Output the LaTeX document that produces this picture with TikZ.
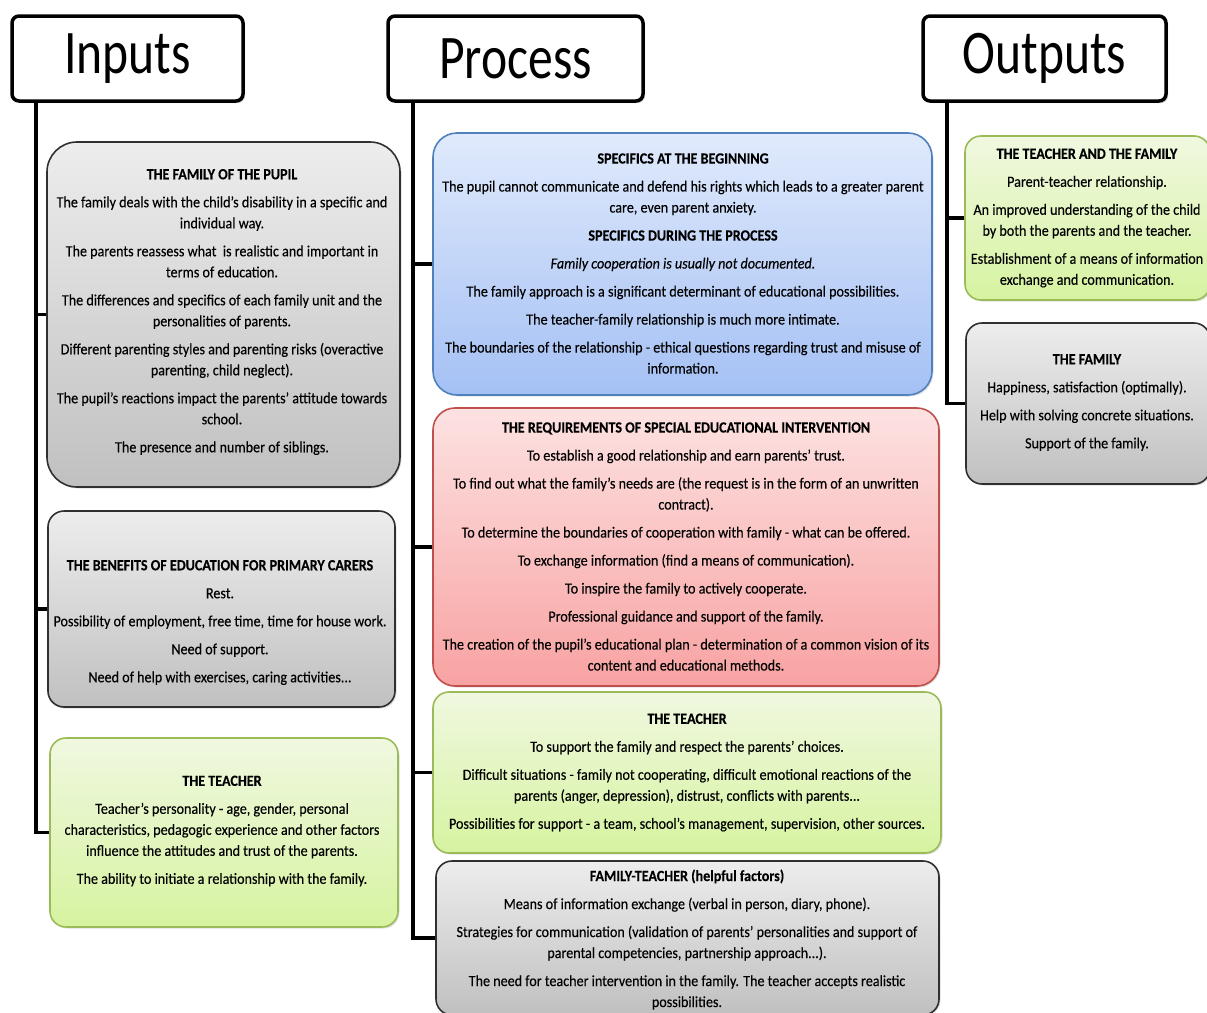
\documentclass[tikz,border=0pt]{standalone}
\usepackage{fontspec}
\setmainfont{Carlito}[FakeStretch=0.91, FakeBold=0.25]
\newfontfamily\hdrfont{Carlito}[FakeStretch=0.8]
\usetikzlibrary{shadows}
\definecolor{grayTop}{HTML}{EDEDED}
\definecolor{grayBot}{HTML}{C0C0C0}
\definecolor{grayEdge}{HTML}{303030}
\definecolor{greenTop}{HTML}{F0F8E0}
\definecolor{greenBot}{HTML}{D6F3A0}
\definecolor{greenEdge}{HTML}{9BBB59}
\definecolor{blueTop}{HTML}{E0EAFC}
\definecolor{blueBot}{HTML}{A4C0F4}
\definecolor{blueEdge}{HTML}{4F81BD}
\definecolor{redTop}{HTML}{FDE2E2}
\definecolor{redBot}{HTML}{F8A2A2}
\definecolor{redEdge}{HTML}{C0504D}
\tikzset{
  hdr/.style={draw=black, line width=3.5pt, rounded corners=7pt, fill=white,
    font=\hdrfont\fontsize{62}{62}\selectfont, minimum height=85pt, inner sep=0pt,
    drop shadow={opacity=0.35, shadow xshift=2pt, shadow yshift=-2pt}},
  conn/.style={draw=black, line width=3.5pt},
  boxbase/.style={line width=1.6pt, inner sep=0pt, rounded corners=16pt,
    drop shadow={opacity=0.25, shadow xshift=1.5pt, shadow yshift=-1.5pt}},
  graybox/.style={boxbase, draw=grayEdge, top color=grayTop, bottom color=grayBot},
  greenbox/.style={boxbase, draw=greenEdge, top color=greenTop, bottom color=greenBot},
  bluebox/.style={boxbase, draw=blueEdge, top color=blueTop, bottom color=blueBot},
  redbox/.style={boxbase, draw=redEdge, top color=redTop, bottom color=redBot},
  txt/.style={align=center, inner sep=0pt, font=\fontsize{15.5}{21}\selectfont},
}
\newcommand{\pg}{\\[7pt]}
\begin{document}
\begin{tikzpicture}[x=1pt, y=-1pt]
\useasboundingbox (0,0) rectangle (1207,1012);

% headers
\node[hdr, minimum width=231pt] (inH) at (127.5,58.5) {Inputs};
\node[hdr, minimum width=255pt] (prH) at (515.5,58.5) {Process};
\node[hdr, minimum width=243pt] (outH) at (1044.5,58.5) {Outputs};

% trunk tops
\coordinate (inT) at (36,101);
\coordinate (prT) at (413,101);
\coordinate (outT) at (947,101);

% boxes
\node[graybox, rounded corners=30pt, minimum width=353pt, minimum height=345pt] (famIn) at (223.5,314.5) {};
\node[graybox, minimum width=347pt, minimum height=196pt] (benIn) at (221.5,609) {};
\node[greenbox, minimum width=348pt, minimum height=189pt] (tchIn) at (224,832.5) {};

\node[bluebox, rounded corners=24pt, minimum width=499pt, minimum height=262pt] (specP) at (682.5,264) {};
\node[redbox, rounded corners=22pt, minimum width=506pt, minimum height=278pt] (reqP) at (686,547) {};
\node[greenbox, minimum width=508pt, minimum height=161pt] (tchP) at (687,772.5) {};
\node[graybox, minimum width=503pt, minimum height=154pt] (famP) at (687.5,938) {};

\node[greenbox, minimum width=245pt, minimum height=164pt] (tfO) at (1087.5,218) {};
\node[graybox, minimum width=244pt, minimum height=161pt] (famO) at (1088,403.5) {};

% connectors
\draw[conn] (inT) |- (tchIn.west);
\draw[conn] (famIn.west) -- (famIn.west -| inT);
\draw[conn] (benIn.west) -- (benIn.west -| inT);
\draw[conn] (prT) |- (famP.west);
\draw[conn] (specP.west) -- (specP.west -| prT);
\draw[conn] (reqP.west) -- (reqP.west -| prT);
\draw[conn] (tchP.west) -- (tchP.west -| prT);
\draw[conn] (outT) |- (famO.west);
\draw[conn] (tfO.west) -- (tfO.west -| outT);

% texts
\node[txt] (famInT) at (222,312) {\textbf{THE FAMILY OF THE PUPIL}\pg
The family deals with the child's disability in a specific and\\ individual way.\pg
The parents reassess what\ \ is realistic and important in\\ terms of education.\pg
The differences and specifics of each family unit and the\\ personalities of parents.\pg
Different parenting styles and parenting risks (overactive\\ parenting, child neglect).\pg
The pupil's reactions impact the parents' attitude towards\\ school.\pg
The presence and number of siblings.};

\node[txt] (benInT) at (220,622.5) {\textbf{THE BENEFITS OF EDUCATION FOR PRIMARY CARERS}\pg
Rest.\pg
Possibility of employment, free time, time for house work.\pg
Need of support.\pg
Need of help with exercises, caring activities...};

\node[txt] (tchInT) at (222,831) {\textbf{THE TEACHER}\pg
Teacher's personality - age, gender, personal\\ characteristics, pedagogic experience and other factors\\ influence the attitudes and trust of the parents.\pg
The ability to initiate a relationship with the family.};

\node[txt] (specPT) at (683,263.5) {\textbf{SPECIFICS AT THE BEGINNING}\pg
The pupil cannot communicate and defend his rights which leads to a greater parent\\ care, even parent anxiety.\pg
\textbf{SPECIFICS DURING THE PROCESS}\pg
\textit{Family cooperation is usually not documented.}\pg
The family approach is a significant determinant of educational possibilities.\pg
The teacher-family relationship is much more intimate.\pg
The boundaries of the relationship - ethical questions regarding trust and misuse of\\ information.};

\node[txt] (reqPT) at (686,546.5) {\textbf{THE REQUIREMENTS OF SPECIAL EDUCATIONAL INTERVENTION}\pg
To establish a good relationship and earn parents' trust.\pg
To find out what the family's needs are (the request is in the form of an unwritten\\ contract).\pg
To determine the boundaries of cooperation with family - what can be offered.\pg
To exchange information (find a means of communication).\pg
To inspire the family to actively cooperate.\pg
Professional guidance and support of the family.\pg
The creation of the pupil's educational plan - determination of a common vision of its\\ content and educational methods.};

\node[txt] (tchPT) at (687,772.5) {\textbf{THE TEACHER}\pg
To support the family and respect the parents' choices.\pg
Difficult situations - family not cooperating, difficult emotional reactions of the\\ parents (anger, depression), distrust, conflicts with parents...\pg
Possibilities for support - a team, school's management, supervision, other sources.};

\node[txt] (famPT) at (687,939.5) {\textbf{FAMILY-TEACHER (helpful factors)}\pg
Means of information exchange (verbal in person, diary, phone).\pg
Strategies for communication (validation of parents' personalities and support of\\ parental competencies, partnership approach...).\pg
The need for teacher intervention in the family. The teacher accepts realistic\\ possibilities.};

\node[txt] (tfOT) at (1087,218) {\textbf{THE TEACHER AND THE FAMILY}\pg
Parent-teacher relationship.\pg
An improved understanding of the child\\ by both the parents and the teacher.\pg
Establishment of a means of information\\ exchange and communication.};

\node[txt] (famOT) at (1087,402.5) {\textbf{THE FAMILY}\pg
Happiness, satisfaction (optimally).\pg
Help with solving concrete situations.\pg
Support of the family.};
\end{tikzpicture}
\end{document}
